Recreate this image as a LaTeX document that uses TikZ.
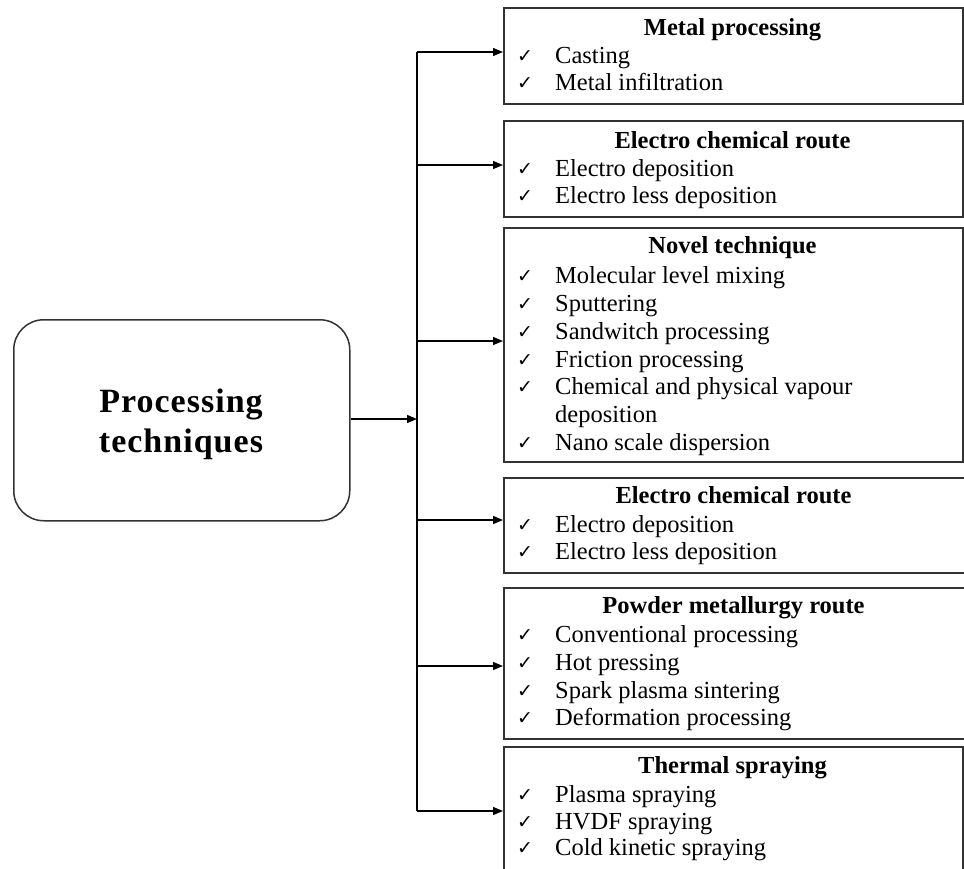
\documentclass[tikz,border=0pt]{standalone}
\usepackage{fontspec}
\setmainfont{Liberation Serif}
\newfontfamily\chkfont{DejaVu Sans}
\newfontfamily\bigtitlefont[LetterSpace=3]{Liberation Serif}
\usetikzlibrary{arrows.meta}
\tikzset{
  box/.style={draw=black!80, line width=1.5pt, anchor=north west, inner sep=0pt},
  mainbox/.style={draw=black!80, line width=1.5pt, rounded corners=30pt, anchor=north west, inner sep=0pt},
  conn/.style={draw=black, line width=1.3pt},
  arr/.style={conn, -{Triangle[length=10pt,width=8pt]}},
  ttl/.style={anchor=base, inner sep=0pt, font=\fontsize{24.5pt}{28pt}\selectfont\bfseries},
  itm/.style={anchor=base west, inner sep=0pt, font=\fontsize{24.5pt}{28pt}\selectfont},
  bigt/.style={anchor=base, inner sep=0pt, font=\fontsize{34pt}{40pt}\bigtitlefont\bfseries},
}
\newcommand{\ck}[1]{\makebox[38pt][l]{\raisebox{0.5pt}{\chkfont\fontsize{19pt}{19pt}\selectfont ✓}}#1}
\begin{document}
\begin{tikzpicture}[x=1pt,y=-1pt]
\useasboundingbox (0,0) rectangle (964,868);
\clip (0,0) rectangle (964,868);
% main box
\node[mainbox, minimum width=336pt, minimum height=201pt] (main) at (13,319) {};
\node[bigt] (mt1) at (181,412) {Processing};
\node[bigt] (mt2) at (181,452) {techniques};
% boxes
\node[box, minimum width=459pt, minimum height=96pt] (b1) at (503,7) {};
\node[box, minimum width=459pt, minimum height=96pt] (b2) at (503,120) {};
\node[box, minimum width=459pt, minimum height=234pt] (b3) at (503,227) {};
\node[box, minimum width=461pt, minimum height=95pt] (b4) at (503,477) {};
\node[box, minimum width=461pt, minimum height=151pt] (b5) at (503,587) {};
\node[box, minimum width=459pt, minimum height=140pt] (b6) at (503,746) {};
% box 1
\node[ttl] (t1) at (732.5,35) {Metal processing};
\node[itm] (i11) at (517,63) {\ck{Casting}};
\node[itm] (i12) at (517,90) {\ck{Metal infiltration}};
% box 2
\node[ttl] (t2) at (732.5,148) {Electro chemical route};
\node[itm] (i21) at (517,176) {\ck{Electro deposition}};
\node[itm] (i22) at (517,203) {\ck{Electro less deposition}};
% box 3
\node[ttl] (t3) at (732.5,253) {Novel technique};
\node[itm] (i31) at (517,283) {\ck{Molecular level mixing}};
\node[itm] (i32) at (517,311) {\ck{Sputtering}};
\node[itm] (i33) at (517,339) {\ck{Sandwitch processing}};
\node[itm] (i34) at (517,367) {\ck{Friction processing}};
\node[itm] (i35) at (517,394) {\ck{Chemical and physical vapour}};
\node[itm] (i36) at (555,422) {deposition};
\node[itm] (i37) at (517,450) {\ck{Nano scale dispersion}};
% box 4
\node[ttl] (t4) at (733.5,503) {Electro chemical route};
\node[itm] (i41) at (517,532) {\ck{Electro deposition}};
\node[itm] (i42) at (517,559) {\ck{Electro less deposition}};
% box 5
\node[ttl] (t5) at (733.5,613) {Powder metallurgy route};
\node[itm] (i51) at (517,642) {\ck{Conventional processing}};
\node[itm] (i52) at (517,670) {\ck{Hot pressing}};
\node[itm] (i53) at (517,698) {\ck{Spark plasma sintering}};
\node[itm] (i54) at (517,725) {\ck{Deformation processing}};
% box 6
\node[ttl] (t6) at (732.5,773) {Thermal spraying};
\node[itm] (i61) at (517,802) {\ck{Plasma spraying}};
\node[itm] (i62) at (517,829) {\ck{HVDF spraying}};
\node[itm] (i63) at (517,855) {\ck{Cold kinetic spraying}};
% connectors
\coordinate (c1) at (417,52);
\coordinate (c2) at (417,165);
\coordinate (c3) at (417,341);
\coordinate (c4) at (417,520);
\coordinate (c5) at (417,666);
\coordinate (c6) at (417,811);
\coordinate (cm) at (417,419);
\draw[conn] (c1) -- (c6);
\draw[arr] (main.east |- cm) -- (cm);
\foreach \i in {1,...,6} {
  \draw[arr] (c\i) -- (c\i -| b\i.west);
}
\end{tikzpicture}
\end{document}
